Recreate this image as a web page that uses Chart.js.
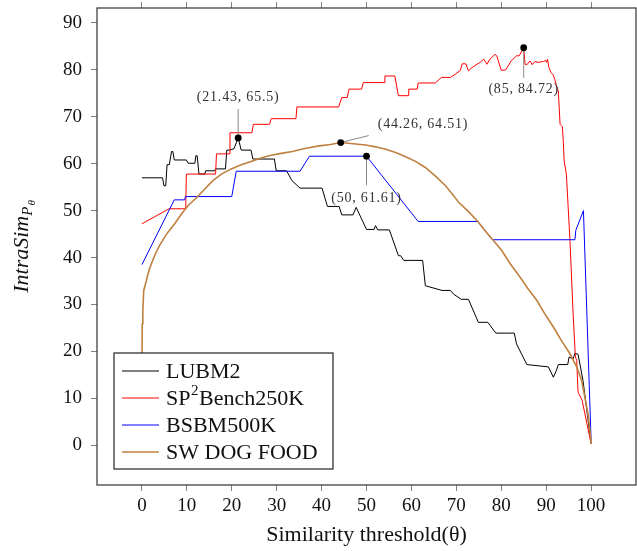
<!DOCTYPE html>
<html>
<head>
<meta charset="utf-8">
<script src="https://cdn.jsdelivr.net/npm/chart.js@4.4.1/dist/chart.umd.min.js"></script>
<style>
  html, body { margin: 0; padding: 0; background: #fff; }
</style>
</head>
<body>
<canvas id="chart" width="637" height="551"></canvas>
<script>
'use strict';

// tick values
const xTicks = [0, 10, 20, 30, 40, 50, 60, 70, 80, 90, 100];
const yTicks = [0, 10, 20, 30, 40, 50, 60, 70, 80, 90];

// LUBM2
const lubmX = [0, 4.6, 4.9, 5.3, 5.6, 6.1, 6.6, 6.9, 7.2, 9.9, 10.3, 11.8, 12.0, 12.3, 12.7, 14.0, 14.2, 16.2, 16.4, 18.6,
    18.9, 19.5, 20.5, 21.43, 22.1, 24.3, 24.7, 29.5, 29.9, 32.2, 33.4, 35.2, 40.1, 41.3, 43.9, 44.5, 47.0, 47.7, 50.0,
    51.7, 52.0, 52.5, 55.1, 57.1, 57.6, 58.3, 62.5, 63.1, 66.8, 68.7, 69.4, 71.1, 72.7, 74.9, 77.0, 78.8, 82.9, 83.4,
    85.7, 90.5, 91.6, 92.3, 92.7, 94.8, 95.1, 96.0, 96.4, 97.1, 98.2, 100];
const lubmY = [57.0, 57.0, 55.3, 55.3, 59.8, 59.8, 62.6, 62.6, 60.8, 60.8, 60.1, 60.1, 61.7, 61.7, 57.8, 57.8, 58.5, 58.5, 58.9, 58.9,
    62.9, 62.9, 63.2, 65.5, 62.9, 62.9, 61.0, 61.0, 58.5, 58.5, 56.4, 54.8, 54.8, 50.9, 50.9, 49.1, 49.1, 50.7, 46.0,
    46.0, 46.8, 45.9, 45.9, 40.4, 40.4, 39.4, 39.4, 34.0, 33.0, 33.0, 32.2, 31.1, 31.1, 26.2, 26.2, 23.9, 23.9, 21.6,
    17.2, 16.7, 14.5, 16.0, 17.2, 17.2, 18.8, 18.4, 19.6, 19.4, 13.8, 0.3];

// SP2Bench250K
const spX = [0, 6.05, 9.75, 9.9, 16.4, 16.6, 19.4, 19.6, 24.5, 24.8, 28.4, 28.8, 34.3, 34.5, 43.8, 44.5, 45.7, 46.1, 48.9, 49.3,
    53.9, 54.1, 56.3, 57.1, 59.3, 59.4, 61.3, 61.5, 65.3, 66.7, 68.7, 69.8, 70.9, 71.3, 72.1, 72.7, 73.5, 74.6, 75.3, 76.1,
    76.8, 77.5, 78.6, 79.0, 80.0, 81.0, 82.2, 83.4, 84.0, 85, 85.3, 85.7, 86.4, 86.9, 87.5, 88.2, 89.4, 89.9, 90.1, 90.3,
    90.6, 91.1, 91.6, 91.9, 92.3, 92.7, 93.1, 93.6, 93.8, 94.0, 94.5, 94.9, 95.3, 96.0, 96.5, 96.8, 97.1, 98.0, 100];
const spY = [47.2, 50.4, 50.4, 57.8, 57.8, 62.1, 62.1, 66.6, 66.6, 68.4, 68.4, 69.6, 69.6, 72.1, 72.1, 74.1, 74.1, 75.9, 75.9, 77.3,
    77.3, 78.7, 78.7, 74.5, 74.5, 75.9, 75.9, 77.2, 77.2, 78.4, 78.4, 79.1, 79.9, 81.3, 81.3, 79.8, 80.5, 81.2, 81.6, 82.3,
    81.2, 82.3, 83.3, 83.0, 79.9, 80.0, 81.9, 83.0, 83.0, 84.72, 81.2, 81.1, 81.9, 81.1, 81.8, 81.6, 81.8, 82.0, 81.6, 82.3,
    80.5, 79.4, 78.9, 78.0, 76.6, 75.5, 68.4, 67.9, 64.9, 60.6, 57.8, 50.7, 43.6, 28.0, 18.8, 18.1, 11.3, 9.6, 0.3];

// BSBM500K
const bsbmX = [0, 7.2, 9.5, 9.7, 20.0, 21.0, 35.2, 37.3, 50, 61.5, 74.8, 78.0, 96.4, 96.6, 98.3, 100];
const bsbmY = [38.5, 52.3, 52.3, 53.0, 53.0, 58.4, 58.4, 61.6, 61.61, 47.7, 47.7, 43.8, 43.8, 45.8, 50.0, 1.0];

// SW DOG FOOD
const dogX = [0, 0.07, 0.2, 0.4, 1.0, 1.6, 2.9, 4.0, 5.5, 5.8, 7.3, 8.8, 10.3, 12.1, 14.0, 15.8, 17.7, 19.9, 22.1, 24.3,
    26.5, 28.8, 31.0, 33.5, 36.5, 39.5, 42.0, 44.26, 47.6, 49.8, 52.0, 54.3, 56.5, 58.7, 60.9, 63.1, 65.3, 67.6, 69.4,
    70.5, 72.6, 74.6, 76.4, 78.3, 80.1, 82.0, 84.2, 86.0, 87.9, 89.7, 91.6, 93.4, 95.3, 96.8, 97.9, 98.6, 99.3, 99.9, 100];
const dogY = [15.0, 25.9, 28.7, 33.0, 35.1, 37.4, 40.6, 42.7, 45.0, 45.4, 47.2, 49.3, 51.1, 52.7, 54.6, 56.4, 57.8, 58.9, 59.8, 60.5,
    61.2, 61.8, 62.2, 62.6, 63.3, 63.8, 64.1, 64.51, 64.2, 64.0, 63.6, 63.1, 62.4, 61.5, 60.5, 59.2, 57.4, 55.3, 53.2,
    51.8, 49.9, 47.9, 45.7, 43.6, 41.5, 38.7, 35.8, 33.3, 30.9, 28.0, 25.2, 22.3, 19.5, 16.7, 13.8, 10.3, 6.7, 1.8, 0.3];

// highlighted points
const markX = [21.43, 44.26, 50, 85];
const markY = [65.5, 64.51, 61.61, 84.72];

const seriesNames = ['LUBM2', 'SP²Bench250K', 'BSBM500K', 'SW DOG FOOD'];
const seriesColors = ['#000000', '#ff0000', '#0000ff', '#bf8040'];

const SERIF = '"Liberation Serif", "DejaVu Serif", serif';

function toPoints(xs, ys) {
    return xs.map((x, i) => ({ x, y: ys[i] }));
}

// pin end / label centre offsets in pixels, relative to the marked point
const markStyle = [
    { pin: [0, -29], label: [0, -41], align: 'center' },
    { pin: [28, -7], label: [37, -18], align: 'left' },
    { pin: [0, 29], label: [0, 42], align: 'center' },
    { pin: [0, 30], label: [0, 42], align: 'center' }
];

function drawRich(ctx, text, x, y, size) {
    // renders "²" as a raised smaller 2
    const parts = text.split('²');
    let cx = x;
    parts.forEach((part, i) => {
        ctx.font = `${size}px ${SERIF}`;
        ctx.fillText(part, cx, y);
        cx += ctx.measureText(part).width;
        if (i < parts.length - 1) {
            ctx.font = `${Math.round(size * 0.7)}px ${SERIF}`;
            ctx.fillText('2', cx + 0.5, y - size * 0.38);
            cx += ctx.measureText('2').width + 1;
        }
    });
}

const decorPlugin = {
    id: 'decor',
    afterDatasetsDraw(chart) {
        const { ctx, chartArea: area, scales } = chart;
        const xs = scales.x;
        const ys = scales.y;

        // markers with pins and labels
        ctx.save();
        markX.forEach((mx, i) => {
            const px = xs.getPixelForValue(mx);
            const py = ys.getPixelForValue(markY[i]);
            const st = markStyle[i];
            ctx.strokeStyle = '#8a8a8a';
            ctx.lineWidth = 1;
            ctx.beginPath();
            ctx.moveTo(px, py);
            ctx.lineTo(px + st.pin[0], py + st.pin[1]);
            ctx.stroke();
            ctx.fillStyle = '#000';
            ctx.beginPath();
            ctx.arc(px, py, 3.4, 0, Math.PI * 2);
            ctx.fill();
            ctx.font = `14px ${SERIF}`;
            ctx.letterSpacing = '0.8px';
            ctx.fillStyle = '#333';
            ctx.textAlign = st.align;
            ctx.textBaseline = 'middle';
            ctx.fillText(`(${mx}, ${markY[i]})`, px + st.label[0], py + st.label[1]);
        });
        ctx.restore();

        // frame
        ctx.save();
        ctx.strokeStyle = '#333';
        ctx.lineWidth = 1.2;
        ctx.strokeRect(area.left, area.top, area.right - area.left, area.bottom - area.top);
        ctx.restore();

        // legend box
        ctx.save();
        const lx = area.left + 17;
        const lw = 219;
        const lh = 116;
        const ly = area.bottom - 16 - lh;
        ctx.fillStyle = '#fff';
        ctx.fillRect(lx, ly, lw, lh);
        ctx.strokeStyle = '#222';
        ctx.lineWidth = 1.2;
        ctx.strokeRect(lx, ly, lw, lh);
        ctx.textAlign = 'left';
        ctx.textBaseline = 'middle';
        seriesNames.forEach((name, i) => {
            const cy = ly + 18 + i * 27;
            ctx.strokeStyle = seriesColors[i];
            ctx.lineWidth = i === 3 ? 1.5 : 1;
            ctx.beginPath();
            ctx.moveTo(lx + 8, cy);
            ctx.lineTo(lx + 45, cy);
            ctx.stroke();
            ctx.fillStyle = '#111';
            drawRich(ctx, name, lx + 52, cy + 1, 22);
        });
        ctx.restore();
    },
    afterDraw(chart) {
        const { ctx, chartArea: area } = chart;
        // axis titles
        ctx.save();
        ctx.fillStyle = '#111';
        ctx.font = `22px ${SERIF}`;
        ctx.textAlign = 'center';
        ctx.textBaseline = 'middle';
        ctx.fillText('Similarity threshold(θ)', (area.left + area.right) / 2, 535);

        ctx.translate(22, (area.top + area.bottom) / 2);
        ctx.rotate(-Math.PI / 2);
        ctx.textAlign = 'left';
        const main = 'IntraSim';
        ctx.font = `italic 22px ${SERIF}`;
        const w1 = ctx.measureText(main).width;
        ctx.font = `italic 15px ${SERIF}`;
        const w2 = ctx.measureText('P').width;
        ctx.font = `italic 11px ${SERIF}`;
        const w3 = ctx.measureText('θ').width;
        let cx = -(w1 + w2 + w3 + 1) / 2;
        ctx.font = `italic 22px ${SERIF}`;
        ctx.fillText(main, cx, 0);
        cx += w1;
        ctx.font = `italic 15px ${SERIF}`;
        ctx.fillText('P', cx, 6);
        cx += w2 + 1;
        ctx.font = `italic 11px ${SERIF}`;
        ctx.fillText('θ', cx, 10);
        ctx.restore();
    }
};

const tickFont = { family: SERIF, size: 19 };
const gridStyle = { drawOnChartArea: false, drawTicks: true, tickLength: 6, color: '#808080', lineWidth: 1 };

new Chart(document.getElementById('chart'), {
    type: 'line',
    data: {
        datasets: [
            { label: seriesNames[0], data: toPoints(lubmX, lubmY), borderColor: seriesColors[0], borderWidth: 1, order: 4 },
            { label: seriesNames[1], data: toPoints(spX, spY), borderColor: seriesColors[1], borderWidth: 1, order: 3 },
            { label: seriesNames[2], data: toPoints(bsbmX, bsbmY), borderColor: seriesColors[2], borderWidth: 1, order: 2 },
            { label: seriesNames[3], data: toPoints(dogX, dogY), borderColor: seriesColors[3], borderWidth: 1.6, order: 1 }
        ]
    },
    options: {
        responsive: false,
        animation: false,
        events: [],
        elements: { point: { radius: 0 }, line: { tension: 0 } },
        layout: { padding: { left: 0, right: 1, top: 0, bottom: 0 } },
        scales: {
            x: {
                type: 'linear',
                position: 'bottom',
                min: -10,
                max: 110,
                afterBuildTicks: (s) => { s.ticks = xTicks.map((v) => ({ value: v })); },
                afterFit: (s) => { s.height = 66; s.paddingLeft = 0; s.paddingRight = 0; },
                grid: gridStyle,
                border: { display: false },
                ticks: { font: tickFont, color: '#111', padding: 4, maxRotation: 0, autoSkip: false }
            },
            x2: {
                type: 'linear',
                position: 'top',
                min: -10,
                max: 110,
                afterBuildTicks: (s) => { s.ticks = xTicks.map((v) => ({ value: v })); },
                afterFit: (s) => { s.height = 8; s.paddingLeft = 0; s.paddingRight = 0; },
                grid: gridStyle,
                border: { display: false },
                ticks: { display: true, color: 'rgba(0,0,0,0)', font: { size: 1 }, padding: 0 }
            },
            y: {
                type: 'linear',
                min: -8.47,
                max: 93.19,
                afterBuildTicks: (s) => { s.ticks = yTicks.map((v) => ({ value: v })); },
                afterFit: (s) => { s.width = 97; s.paddingTop = 0; s.paddingBottom = 0; },
                grid: gridStyle,
                border: { display: false },
                ticks: { font: tickFont, color: '#111', padding: 9, autoSkip: false }
            }
        },
        plugins: {
            legend: { display: false },
            tooltip: { enabled: false }
        }
    },
    plugins: [decorPlugin]
});
</script>
</body>
</html>
